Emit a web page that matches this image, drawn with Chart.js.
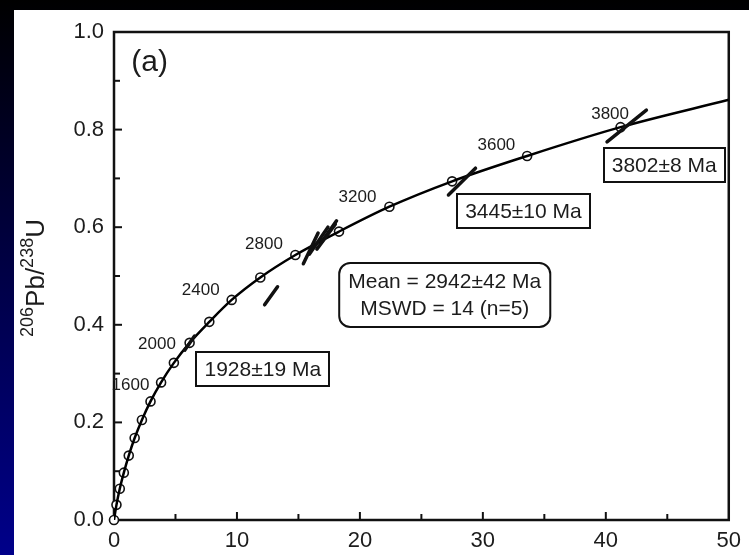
<!DOCTYPE html>
<html>
<head>
<meta charset="utf-8">
<script src="https://cdn.jsdelivr.net/npm/chart.js@4.4.0/dist/chart.umd.min.js"></script>
<style>
    html, body {
        margin: 0;
        padding: 0;
        background: linear-gradient(to bottom, #000000 0%, #000040 45%, #00008a 100%);
        width: 749px;
        height: 555px;
        overflow: hidden;
    }
    #chart-concordia {
        display: block;
    }
</style>
</head>
<body>
<canvas id="chart-concordia" width="749" height="555"></canvas>
<script>
// ---- concordia (207Pb/235U vs 206Pb/238U), ages in Ma ----
const concordiaAges = [0, 200, 400, 600, 800, 1000, 1200, 1400, 1600, 1800, 2000, 2200, 2400, 2600, 2800, 3000, 3200, 3400, 3600, 3800];
const concordiaX = [0, 0.2, 0.47, 0.8, 1.2, 1.68, 2.27, 2.97, 3.83, 4.87, 6.15, 7.75, 9.57, 11.9, 14.75, 18.3, 22.4, 27.5, 33.6, 41.2];
const concordiaY = [0, 0.031, 0.064, 0.097, 0.132, 0.168, 0.205, 0.243, 0.282, 0.322, 0.363, 0.406, 0.451, 0.497, 0.543, 0.591, 0.642, 0.694, 0.746, 0.805];
const curveEndX = 50;
const curveEndY = 0.861;

// ---- analyses (long axis of each error ellipse) ----
const ellipseStartX = [5.75, 12.25, 15.4, 15.9, 16.5, 16.9, 27.2, 40.1];
const ellipseStartY = [0.348, 0.441, 0.525, 0.545, 0.555, 0.570, 0.666, 0.775];
const ellipseEndX = [6.55, 13.3, 16.6, 17.4, 18.0, 18.1, 29.4, 43.3];
const ellipseEndY = [0.377, 0.478, 0.588, 0.600, 0.606, 0.613, 0.721, 0.840];

// ---- labels ----
const ageLabels = ["1600", "2000", "2400", "2800", "3200", "3600", "3800"];
const ageLabelX = [1.34, 3.5, 7.05, 12.2, 19.8, 31.1, 40.35];
const ageLabelY = [0.277, 0.359, 0.471, 0.564, 0.662, 0.768, 0.832];

const resultLabels = ["1928±19 Ma", "3445±10 Ma", "3802±8 Ma"];
const resultX = [12.1, 33.3, 44.75];
const resultY = [0.309, 0.633, 0.727];

const meanLines = ["Mean = 2942±42 Ma", "MSWD = 14 (n=5)"];
const meanX = 26.9;
const meanY = 0.461;

const xTicks = [0, 10, 20, 30, 40, 50];
const yTicks = [0, 0.2, 0.4, 0.6, 0.8, 1.0];

const FONT = "'Liberation Sans', Arial, Helvetica, sans-serif";
const INK = "#1c1c1c";

(function () {
    const curvePts = concordiaX.map((x, i) => ({ x: x, y: concordiaY[i] }));
    curvePts.push({ x: curveEndX, y: curveEndY });

    const datasets = [];

    ellipseStartX.forEach((x0, i) => {
        datasets.push({
            data: [
                { x: x0, y: ellipseStartY[i] },
                { x: ellipseEndX[i], y: ellipseEndY[i] },
            ],
            showLine: true,
            borderColor: "#111",
            borderWidth: 3.5,
            borderCapStyle: "round",
            pointRadius: 0,
        });
    });

    datasets.push({
        data: curvePts,
        showLine: true,
        borderColor: "#000",
        borderWidth: 2.5,
        cubicInterpolationMode: "monotone",
        pointRadius: 0,
    });

    datasets.push({
        data: concordiaX.map((x, i) => ({ x: x, y: concordiaY[i] })),
        showLine: false,
        clip: false,
        pointRadius: 4.5,
        pointBackgroundColor: "#fff",
        pointBorderColor: "#111",
        pointBorderWidth: 1.6,
    });

    /* ============ background, frame, ticks, annotations ============ */
    const paper = {
        id: "paper",
        beforeDraw(chart) {
            const c = chart.ctx;
            c.save();
            c.fillStyle = "#fff";
            c.fillRect(14, 10, chart.width - 14, chart.height - 10);
            c.restore();
        },
        beforeDatasetsDraw(chart) {
            const c = chart.ctx;
            const a = chart.chartArea;
            const sx = chart.scales.x;
            const sy = chart.scales.y;
            c.save();
            c.strokeStyle = "#111";
            c.lineWidth = 2.5;
            c.strokeRect(a.left, a.top, a.right - a.left, a.bottom - a.top);

            // inward ticks
            c.lineWidth = 2;
            for (let v = 5; v < 50; v += 5) {
                const px = sx.getPixelForValue(v);
                const len = v % 10 === 0 ? 8 : 6;
                c.beginPath();
                c.moveTo(px, a.bottom);
                c.lineTo(px, a.bottom - len);
                c.stroke();
            }
            for (let k = 1; k < 10; k++) {
                const py = sy.getPixelForValue(k / 10);
                const len = k % 2 === 0 ? 8 : 6;
                c.beginPath();
                c.moveTo(a.left, py);
                c.lineTo(a.left + len, py);
                c.stroke();
            }
            c.restore();
        },
        afterDraw(chart) {
            const c = chart.ctx;
            const sx = chart.scales.x;
            const sy = chart.scales.y;
            c.save();
            c.strokeStyle = "#111";

            // age labels
            c.fillStyle = INK;
            c.font = "17px " + FONT;
            c.textAlign = "center";
            c.textBaseline = "middle";
            ageLabels.forEach((t, i) => {
                c.fillText(t, sx.getPixelForValue(ageLabelX[i]), sy.getPixelForValue(ageLabelY[i]));
            });

            // (a)
            c.font = "30px " + FONT;
            c.fillText("(a)", sx.getPixelForValue(2.9), sy.getPixelForValue(0.936));

            // result boxes
            c.font = "21px " + FONT;
            c.lineWidth = 2;
            resultLabels.forEach((t, i) => {
                const cx = sx.getPixelForValue(resultX[i]);
                const cy = sy.getPixelForValue(resultY[i]);
                const w = c.measureText(t).width + 16;
                const h = 34;
                c.strokeRect(Math.round(cx - w / 2), Math.round(cy - h / 2), Math.round(w), h);
                c.fillText(t, cx, cy + 1);
            });

            // mean box
            const mx = sx.getPixelForValue(meanX);
            const my = sy.getPixelForValue(meanY);
            const mw = c.measureText(meanLines[0]).width + 18;
            const mh = 64;
            c.beginPath();
            c.roundRect(mx - mw / 2, my - mh / 2, mw, mh, 11);
            c.stroke();
            c.fillText(meanLines[0], mx, my - 13);
            c.fillText(meanLines[1], mx, my + 14);

            // y axis title  206Pb/238U
            c.translate(44, 278);
            c.rotate(-Math.PI / 2);
            c.textAlign = "left";
            c.textBaseline = "alphabetic";
            const big = "26px " + FONT;
            const small = "18px " + FONT;
            const parts = [["206", small, -11], ["Pb/", big, 0], ["238", small, -11], ["U", big, 0]];
            let total = 0;
            parts.forEach(p => { c.font = p[1]; total += c.measureText(p[0]).width; });
            let x = -total / 2;
            parts.forEach(p => {
                c.font = p[1];
                c.fillText(p[0], x, p[2]);
                x += c.measureText(p[0]).width;
            });
            c.restore();
        },
    };

    new Chart(document.getElementById("chart-concordia").getContext("2d"), {
        type: "scatter",
        data: { datasets: datasets },
        options: {
            responsive: false,
            animation: false,
            events: [],
            layout: {
                padding: { top: 32, right: 13, left: 0, bottom: 0 },
            },
            plugins: {
                legend: { display: false },
                tooltip: { enabled: false },
            },
            scales: {
                x: {
                    type: "linear",
                    min: 0,
                    max: 50,
                    afterFit: s => { s.height = 35; },
                    afterBuildTicks: s => { s.ticks = xTicks.map(v => ({ value: v })); },
                    ticks: {
                        color: INK,
                        font: { size: 22, family: FONT },
                        padding: 8,
                        maxRotation: 0,
                    },
                    grid: { display: false, drawTicks: false },
                    border: { display: false },
                },
                y: {
                    type: "linear",
                    min: 0,
                    max: 1,
                    afterFit: s => { s.width = 114; },
                    afterBuildTicks: s => { s.ticks = yTicks.map(v => ({ value: v })); },
                    ticks: {
                        color: INK,
                        font: { size: 22, family: FONT },
                        padding: 10,
                        callback: v => v.toFixed(1),
                    },
                    grid: { display: false, drawTicks: false },
                    border: { display: false },
                },
            },
        },
        plugins: [paper],
    });
})();
</script>
</body>
</html>
